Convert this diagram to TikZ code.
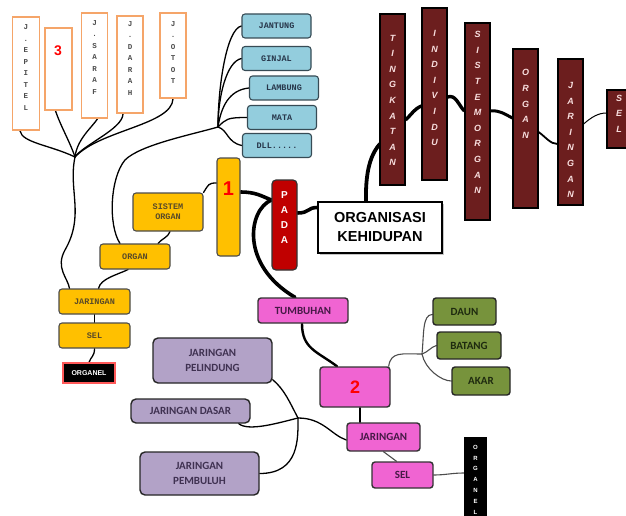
\documentclass[tikz,border=0pt]{standalone}
\usepackage{fontspec}
\setmainfont{Liberation Sans}
\newfontfamily\carl{Carlito}
\newfontfamily\jmono{Liberation Mono}
\usetikzlibrary{backgrounds,shadows}

\definecolor{orangeedge}{RGB}{245,165,105}
\definecolor{aquabox}{RGB}{147,205,221}
\definecolor{aquaedge}{RGB}{55,75,85}
\definecolor{navytext}{RGB}{40,55,75}
\definecolor{goldbox}{RGB}{255,192,0}
\definecolor{goldtext}{RGB}{90,75,40}
\definecolor{maroonbox}{RGB}{108,30,30}
\definecolor{letterpink}{RGB}{248,222,222}
\definecolor{padared}{RGB}{192,0,0}
\definecolor{pinkbox}{RGB}{240,100,210}
\definecolor{pinktext}{RGB}{70,25,70}
\definecolor{olivebox}{RGB}{119,147,60}
\definecolor{olivetext}{RGB}{30,42,15}
\definecolor{lilacbox}{RGB}{178,162,199}
\definecolor{lilactext}{RGB}{63,49,81}

\begin{document}
\begin{tikzpicture}[x=1pt, y=-1pt,
  conn/.style={line width=1.3pt, line cap=round},
  greyconn/.style={line width=1.1pt, line cap=round, draw=black!70},
  heavy/.style={line width=3.6pt, line cap=round},
  gapline/.style={line width=3.4pt, line cap=butt},
  jbox/.style={draw=orangeedge, line width=1.6pt, fill=white, inner sep=0pt, minimum width=26pt},
  jtext/.style={align=center, text=black!70, font=\jmono\bfseries\fontsize{7.5}{11.5}\selectfont},
  obox/.style={draw=aquaedge, fill=aquabox, rounded corners=3pt, line width=1.1pt, inner sep=0pt,
    minimum width=69pt, minimum height=24pt, text=navytext, font=\jmono\bfseries\fontsize{8.5}{9}\selectfont},
  ybox/.style={draw=black!70, fill=goldbox, rounded corners=3pt, line width=1.1pt, inner sep=0pt,
    align=center, text=goldtext, font=\jmono\bfseries\fontsize{8.5}{10}\selectfont},
  tbox/.style={draw=black, fill=maroonbox, line width=1.2pt, inner sep=0pt, minimum width=25pt},
  ttext/.style={align=center, text=letterpink, font=\bfseries\itshape\fontsize{9}{15.6}\selectfont},
  pbox/.style={draw=black!80, fill=pinkbox, rounded corners=3pt, line width=1.4pt, inner sep=0pt,
    text=pinktext, font=\carl\bfseries\fontsize{11}{12}\selectfont},
  gbox/.style={draw=black!85, fill=olivebox, rounded corners=3pt, line width=1.4pt, inner sep=0pt,
    text=olivetext, font=\carl\bfseries\fontsize{11}{12}\selectfont},
  vbox/.style={draw=black!85, fill=lilacbox, rounded corners=5pt, line width=1.4pt, inner sep=0pt,
    align=center, text=lilactext, font=\carl\bfseries\fontsize{11}{15}\selectfont},
  numtext/.style={text=red, font=\bfseries\fontsize{20}{20}\selectfont}]

    \useasboundingbox (0,0) rectangle (626,516);
    \clip (0,0) rectangle (626,516);

    % Jenis jaringan (orange boxes)
    \node[jbox, minimum width=27pt, minimum height=113pt] (epitel) at (26,73.5) {};
    \node[jtext] (epitelt) at (26,67.5) {J\\.\\E\\P\\I\\T\\E\\L};
    \node[jbox, minimum width=27pt, minimum height=82pt] (three) at (58.5,69) {};
    \node[numtext, font=\bfseries\fontsize{14}{14}\selectfont] (threet) at (58,51) {3};
    \node[jbox, minimum height=105pt] (saraf) at (94.5,65.5) {};
    \node[jtext] (saraft) at (94.5,57.5) {J\\.\\S\\A\\R\\A\\F};
    \node[jbox, minimum height=97pt] (darah) at (130,64.5) {};
    \node[jtext] (daraht) at (130,58.5) {J\\.\\D\\A\\R\\A\\H};
    \node[jbox, minimum height=85pt] (otot) at (173,55.5) {};
    \node[jtext] (ototj) at (173,52.5) {J\\.\\O\\T\\O\\T};

    % Organ (light blue boxes)
    \node[obox] (jantung) at (276.5,26) {JANTUNG};
    \node[obox] (ginjal) at (276.5,58.5) {GINJAL};
    \node[obox] (lambung) at (284,88) {LAMBUNG};
    \node[obox] (mata) at (282,117.5) {MATA};
    \node[obox] (dll) at (277,145.5) {DLL.....};

    % Tingkatan (dark red columns)
    \node[tbox, minimum height=171pt] (ting) at (392.5,99.5) {};
    \node[ttext] (tingt) at (392.5,100.5) {T\\I\\N\\G\\K\\A\\T\\A\\N};
    \node[tbox, minimum height=172pt] (indiv) at (434.5,94) {};
    \node[ttext] (indivt) at (434.5,88) {I\\N\\D\\I\\V\\I\\D\\U};
    \node[tbox, minimum height=197pt] (sisorg2) at (477.5,121.5) {};
    \node[ttext] (sisorg2t) at (477.5,112.5) {S\\I\\S\\T\\E\\M\\O\\R\\G\\A\\N};
    \node[tbox, minimum height=159pt] (organ2) at (525.5,128.5) {};
    \node[ttext] (organ2t) at (525.5,104) {O\\R\\G\\A\\N};
    \node[tbox, minimum height=146pt] (jar2) at (570.5,132) {};
    \node[ttext] (jar2t) at (570.5,140) {J\\A\\R\\I\\N\\G\\A\\N};
    \node[tbox, minimum height=58pt] (sel2) at (619.5,119) {};
    \node[ttext] (sel2t) at (619,113.5) {S\\E\\L};

    % Pusat
    \node[draw=black!80, fill=padared, rounded corners=4pt, line width=1.2pt, inner sep=0pt,
      minimum width=25pt, minimum height=90pt] (pada) at (284.5,225) {};
    \node[align=center, text=white, font=\bfseries\fontsize{10}{15}\selectfont] (padat) at (284.5,217.5) {P\\A\\D\\A};
    \node[draw, line width=1.5pt, fill=white, inner sep=0pt, minimum width=124pt, minimum height=51pt,
      drop shadow={shadow xshift=2pt, shadow yshift=-2pt, fill=black!45},
      align=center, font=\bfseries\fontsize{14.5}{19}\selectfont] (org) at (380,227.5) {ORGANISASI\\KEHIDUPAN};

    % Hewan/manusia (yellow boxes)
    \node[ybox, minimum width=23pt, minimum height=98pt] (one) at (228.5,207) {};
    \node[numtext] (onet) at (228.5,189) {1};
    \node[ybox, minimum width=70pt, minimum height=38pt] (sisorg) at (168,212) {SISTEM\\ORGAN};
    \node[ybox, minimum width=70pt, minimum height=25pt] (organ) at (135,256.5) {ORGAN};
    \node[ybox, minimum width=71pt, minimum height=25pt] (jar) at (94.5,301.5) {JARINGAN};
    \node[ybox, minimum width=71pt, minimum height=25pt] (sel) at (94.5,335.5) {SEL};
    \node[fill=black, draw=red!65!white, line width=1.2pt, inner sep=0pt, minimum width=52pt, minimum height=20pt,
      text=white, font=\bfseries\fontsize{7}{8}\selectfont] (organel) at (89,373) {ORGANEL};

    % Tumbuhan (pink boxes)
    \node[pbox, minimum width=90pt, minimum height=25pt] (tumb) at (303,310.5) {TUMBUHAN};
    \node[pbox, minimum width=70pt, minimum height=40pt, text=red, font=\bfseries\fontsize{18}{18}\selectfont] (two) at (355,387) {2};
    \node[pbox, minimum width=73pt, minimum height=28pt] (jarp) at (383.5,437) {JARINGAN};
    \node[pbox, minimum width=61pt, minimum height=26pt] (selp) at (402.5,475) {SEL};
    \node[fill=black, inner sep=0pt, minimum width=23pt, minimum height=86pt] (organelp) at (475.5,480) {};
    \node[align=center, text=white, font=\bfseries\fontsize{6}{10.8}\selectfont] (organelpt) at (475.5,479.5) {O\\R\\G\\A\\N\\E\\L};

    % Organ tumbuhan (green boxes)
    \node[gbox, minimum width=63pt, minimum height=27pt] (daun) at (464.5,311.5) {DAUN};
    \node[gbox, minimum width=64pt, minimum height=27pt] (batang) at (469,345.5) {BATANG};
    \node[gbox, minimum width=58pt, minimum height=28pt] (akar) at (481,381) {AKAR};

    % Jaringan tumbuhan (purple boxes)
    \node[vbox, minimum width=119pt, minimum height=45pt] (pelin) at (212.5,360.5) {JARINGAN\\PELINDUNG};
    \node[vbox, minimum width=119pt, minimum height=24pt] (dasar) at (190.5,411) {JARINGAN DASAR};
    \node[vbox, minimum width=119pt, minimum height=43pt] (pemb) at (199.5,473.5) {JARINGAN\\PEMBULUH};

    % tingkatan: pieces of the wavy line seen between the columns
    \draw[gapline] ([yshift=-20.5pt]ting.east) .. controls +(7,-7) and +(-7,3) .. ([yshift=-12pt]indiv.west);
    \draw[gapline] ([yshift=-3pt]indiv.east) .. controls +(8,-3) and +(-6,-6) .. ([yshift=10.5pt]sisorg2.west);
    \draw[gapline, line width=3pt] ([yshift=10.5pt]sisorg2.east) .. controls +(9,-1) and +(-8,-4) .. ([yshift=10.5pt]organ2.west);
    \draw[gapline, line width=1.8pt] ([yshift=-3.5pt]organ2.east) .. controls +(7,5) and +(-7,0) .. ([yshift=-12pt]jar2.west);
    \draw[gapline, line width=1pt] ([yshift=8pt]jar2.east) .. controls +(8,-7) and +(-8,0) .. ([yshift=6pt]sel2.west);

    % Connectors behind the boxes
    \begin{pgfonlayer}{background}
    \coordinate (jorg) at (75,157);
    \coordinate (jb) at (218,127);
    \coordinate (jg) at (422,354);
    \coordinate (jp) at (298,418);

    % jenis jaringan
    \draw[conn] ([xshift=-6pt]epitel.south) .. controls +(2,12) and +(-25,-12) .. (jorg);
    \draw[conn] ([xshift=-3pt]three.south) .. controls +(5,15) and +(-5,-15) .. (jorg);
    \draw[conn] ([xshift=3pt]saraf.south) .. controls +(-5,8) and +(2,-18) .. (jorg);
    \draw[conn] ([xshift=-7pt]darah.south) .. controls +(0,15) and +(8,-12) .. (jorg);
    \draw[conn] (otot.south) .. controls (172,125) and (100,130) .. (jorg);
    \draw[conn] (jorg) .. controls (68,190) and (85,215) .. (65,250) .. controls (55,268) and (68,278) .. ([xshift=-25pt]jar.north);

    % organ
    \draw[conn] (jantung.west) .. controls +(-15,3) and +(0,-40) .. (jb);
    \draw[conn] (ginjal.west) .. controls +(-15,3) and +(0,-30) .. (jb);
    \draw[conn] (lambung.west) .. controls +(-20,2) and +(3,-20) .. (jb);
    \draw[conn] (mata.west) .. controls +(-20,0) and +(8,-8) .. (jb);
    \draw[conn] (dll.west) .. controls +(-15,-3) and +(10,3) .. (jb);
    \draw[conn] (jb) .. controls (190,135) and (140,145) .. (125,160) .. controls (110,178) and (108,225) .. ([xshift=-15pt]organ.north);

    % hewan
    \draw[conn] (sisorg.north east) .. controls +(5,-8) and +(-8,0) .. ([yshift=24pt]one.west);
    \draw[conn] ([xshift=23pt]organ.north) .. controls +(4,-5) and +(-2,6) .. ([xshift=2pt]sisorg.south);
    \draw[conn] ([xshift=4pt]jar.north) .. controls +(2,-10) and +(-10,5) .. ([xshift=-7pt]organ.south);
    \draw[conn] (jar.south) -- (sel.north);
    \draw[conn] (sel.south) .. controls +(0,8) and +(2,-6) .. (organel.north);

    % pusat
    \draw[heavy] ([yshift=15pt]one.east) .. controls +(15,0) and +(-10,-4) .. ([yshift=25pt]pada.west);
    \draw[heavy] ([yshift=25pt]pada.west) .. controls (248,210) and (240,265) .. ([xshift=-8pt]tumb.north);
    \draw[heavy] ([yshift=12pt]pada.east) .. controls +(12,0) and +(-10,0) .. ([yshift=20pt]org.west);
    \draw[heavy, line width=3.8pt] ([xshift=-14pt]org.north) .. controls +(-1,-45) and +(-15,8) .. ([yshift=-35pt]ting.center);

    % tumbuhan
    \draw[conn, line width=2.4pt] ([xshift=-1pt]tumb.south) .. controls +(0,25) and +(-20,-15) .. ([xshift=-18pt]two.north);
    \draw[conn] ([xshift=5pt]two.south) -- ([xshift=-23.5pt]jarp.north);
    \draw[greyconn] (jarp.south) -- ([xshift=-6pt]selp.north);
    \draw[greyconn] (selp.east) .. controls +(12,0) and +(-12,0) .. ([yshift=7pt]organelp.west);
    \draw[greyconn] ([xshift=-2pt]two.north east) .. controls +(2,-15) and +(-20,0) .. (jg);
    \draw[greyconn] (jg) .. controls +(2,-20) and +(-10,0) .. ([yshift=-3pt]daun.west);
    \draw[greyconn] (jg) .. controls +(6,-2) and +(-6,2) .. (batang.west);
    \draw[greyconn] (jg) .. controls +(3,15) and +(-10,0) .. (akar.west);
    \draw[conn] ([yshift=4pt]pelin.south east) .. controls +(12,10) and +(-8,-15) .. (jp);
    \draw[conn] ([xshift=-12pt]dasar.south east) .. controls +(10,8) and +(-20,5) .. (jp);
    \draw[conn] (pemb.east) .. controls +(40,0) and +(0,20) .. (jp);
    \draw[conn] (jp) .. controls +(25,0) and +(-15,-5) .. ([yshift=-3pt]jarp.west);
    \end{pgfonlayer}

\end{tikzpicture}
\end{document}
